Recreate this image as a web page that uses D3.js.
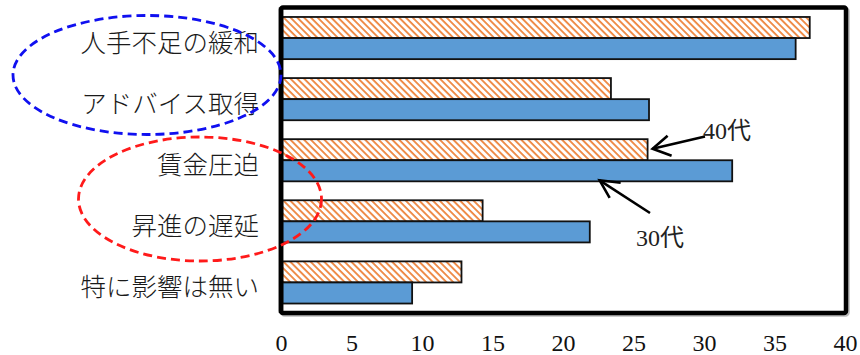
<!DOCTYPE html>
<html><head><meta charset="utf-8">
<script src="https://cdn.jsdelivr.net/npm/d3@7"></script>
<style>
html,body{margin:0;padding:0;background:#fff;}
svg{display:block;}
</style>
</head><body>
<svg id="chart" width="860" height="355"></svg>
<script>
const categories = ["人手不足の緩和", "アドバイス取得", "賃金圧迫", "昇進の遅延", "特に影響は無い"];
const seriesNames = ["40代", "30代"];
const values40 = [37.5, 23.4, 26.0, 14.3, 12.8];
const values30 = [36.5, 26.1, 32.0, 21.9, 9.3];
const xTicks = [0, 5, 10, 15, 20, 25, 30, 35, 40];

const svg = d3.select("#chart");
const plot = {left: 281, right: 846, top: 7.5, bottom: 313};

const x = d3.scaleLinear().domain([0, 40]).range([281, 845]);
const y = d3.scaleBand().domain(categories).range([plot.top, plot.bottom]).paddingInner(0.31).paddingOuter(0.155);
const ySub = d3.scaleBand().domain(seriesNames).range([0, y.bandwidth()]);

const defs = svg.append("defs");
const pat = defs.append("pattern").attr("id", "hatch").attr("patternUnits", "userSpaceOnUse")
  .attr("width", 4.8).attr("height", 4.8).attr("patternTransform", "rotate(-45)");
pat.append("rect").attr("width", 4.8).attr("height", 4.8).attr("fill", "#fff");
pat.append("line").attr("x1", 1).attr("y1", 0).attr("x2", 1).attr("y2", 4.8)
  .attr("stroke", "#ED7D31").attr("stroke-width", 1.7);

// frame shadow + frame
svg.append("rect").attr("x", plot.left + 1.5).attr("y", plot.top + 1.5)
  .attr("width", plot.right - plot.left).attr("height", plot.bottom - plot.top)
  .attr("fill", "none").attr("stroke", "#bbb").attr("stroke-width", 4.5).attr("rx", 2);
svg.append("rect").attr("x", plot.left).attr("y", plot.top)
  .attr("width", plot.right - plot.left).attr("height", plot.bottom - plot.top)
  .attr("fill", "#fff").attr("stroke", "#000").attr("stroke-width", 4.5).attr("rx", 2);

const rows = categories.map((c, i) => ({cat: c, v40: values40[i], v30: values30[i]}));

const g = svg.append("g");
rows.forEach(r => {
  g.append("rect")
    .attr("x", x(0) + 1.5).attr("y", y(r.cat) + ySub("40代"))
    .attr("width", x(r.v40) - x(0) - 1.5).attr("height", ySub.bandwidth())
    .attr("fill", "url(#hatch)").attr("stroke", "#111").attr("stroke-width", 1.8);
  g.append("rect")
    .attr("x", x(0) + 1.5).attr("y", y(r.cat) + ySub("30代"))
    .attr("width", x(r.v30) - x(0) - 1.5).attr("height", ySub.bandwidth())
    .attr("fill", "#5B9BD5").attr("stroke", "#111").attr("stroke-width", 1.8);
});

// redraw left frame edge on top
svg.append("line").attr("x1", plot.left).attr("x2", plot.left).attr("y1", plot.top).attr("y2", plot.bottom)
  .attr("stroke", "#000").attr("stroke-width", 4.5);

// category labels
svg.append("g").selectAll("text").data(categories).join("text")
  .attr("x", 259).attr("y", d => y(d) + y.bandwidth() / 2 + 2)
  .attr("text-anchor", "end").attr("dominant-baseline", "central")
  .attr("font-family", "'Noto Sans CJK JP', sans-serif").attr("font-weight", 300)
  .attr("font-size", 25.5).attr("fill", "#1a1a1a")
  .text(d => d);

// x axis tick labels
const xAxis = d3.axisBottom(x).tickValues(xTicks).tickSize(0).tickPadding(0);
const ax = svg.append("g").attr("transform", `translate(0,${plot.bottom})`).call(xAxis);
ax.select(".domain").remove();
ax.selectAll("text").attr("y", 38).attr("dy", 0)
  .attr("font-family", "'Liberation Serif', serif").attr("font-size", 24).attr("fill", "#111");

// annotations
function arrow(x1, y1, tx, ty, w1, w2) {
  const p = svg.append("g").attr("stroke", "#000").attr("stroke-width", 2.6).attr("fill", "none")
    .attr("stroke-linecap", "butt");
  p.append("line").attr("x1", x1).attr("y1", y1).attr("x2", tx).attr("y2", ty);
  p.append("polyline").attr("points", `${w1[0]},${w1[1]} ${tx},${ty} ${w2[0]},${w2[1]}`)
    .attr("stroke-linejoin", "miter");
}
const i3 = 2;
const y40 = y(categories[i3]) + ySub("40代") + ySub.bandwidth() / 2;
const tip40x = x(values40[i3]) + 5;
arrow(705, 136.5, tip40x, y40 - 1, [tip40x + 15, y40 - 14], [tip40x + 19, y40 + 6]);
const y30b = y(categories[i3]) + ySub("30代") + ySub.bandwidth() - 1;
const tip30x = x(22.6);
arrow(650, 213, tip30x, y30b, [tip30x + 21, y30b + 2.5], [tip30x + 10, y30b + 17.5]);

svg.append("text").attr("x", 703).attr("y", 138.5)
  .attr("font-family", "'Liberation Serif', 'Noto Sans CJK JP', serif").attr("font-size", 24).attr("fill", "#222")
  .text("40代");
svg.append("text").attr("x", 636).attr("y", 245.5)
  .attr("font-family", "'Liberation Serif', 'Noto Sans CJK JP', serif").attr("font-size", 24).attr("fill", "#222")
  .text("30代");

// dashed ellipses
svg.append("ellipse").attr("cx", 147).attr("cy", 75).attr("rx", 134).attr("ry", 59.5)
  .attr("fill", "none").attr("stroke", "#1010F0").attr("stroke-width", 2.8).attr("stroke-dasharray", "9,5");
svg.append("ellipse").attr("cx", 200).attr("cy", 199).attr("rx", 121.5).attr("ry", 62)
  .attr("fill", "none").attr("stroke", "#FF1A1A").attr("stroke-width", 2.8).attr("stroke-dasharray", "9,5");
</script>
</body></html>
